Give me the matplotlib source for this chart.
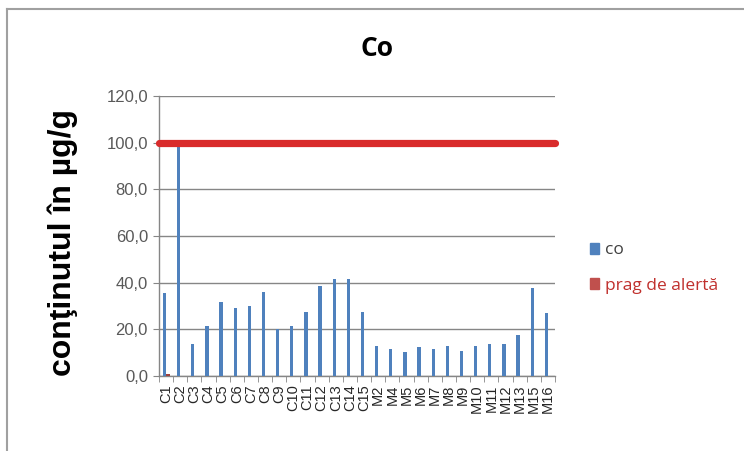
import numpy as np
import matplotlib.pyplot as plt
from matplotlib.patches import Patch
from matplotlib.lines import Line2D

# date
categorii = ['C1', 'C2', 'C3', 'C4', 'C5', 'C6', 'C7', 'C8', 'C9', 'C10',
             'C11', 'C12', 'C13', 'C14', 'C15', 'M2', 'M4', 'M5', 'M6', 'M7',
             'M8', 'M9', 'M10', 'M11', 'M12', 'M13', 'M15', 'M16']
co = [35.4, 98.6, 13.6, 21.6, 31.6, 29.0, 30.1, 36.1, 20.0, 21.6,
      27.6, 38.7, 41.6, 41.6, 27.6, 12.9, 11.6, 10.1, 12.3, 11.6,
      12.9, 10.9, 12.9, 13.6, 13.6, 17.6, 37.6, 26.9]
prag_bare = [0.7]          # mica bara rosie de la C1
prag_alerta = 100.0
yticks = [0, 20, 40, 60, 80, 100, 120]

albastru = '#4F81BD'
rosu = '#D92B2B'
gri = '#868686'

W, H = 744, 451
fig = plt.figure(figsize=(W / 100, H / 100), dpi=100)
ax = fig.add_axes([159 / W, 1 - 376 / H, 396 / W, 280 / H])

x = np.arange(len(categorii))
ax.bar(x - 0.11, co, width=0.24, color=albastru, zorder=3)
ax.bar(x[:len(prag_bare)] + 0.13, prag_bare, width=0.24, color='#A0413C', zorder=3)

# linia pragului de alerta
ax.plot([x[0] - 0.5, x[-1] + 0.5], [prag_alerta, prag_alerta], color=rosu,
        lw=5.2, solid_capstyle='round', zorder=4, clip_on=False)

ax.set_xlim(-0.5, len(categorii) - 0.5)
ax.set_ylim(0, 120)
ax.set_yticks(yticks)
ax.set_yticklabels([('%.1f' % v).replace('.', ',') for v in yticks],
                   fontsize=12, color='#595959', family='Liberation Sans')
ax.yaxis.grid(True, color=gri, lw=1, zorder=0)
ax.set_axisbelow(True)

ax.set_xticks(x)
ax.set_xticklabels(categorii, rotation=90, fontsize=10.5, family='Liberation Sans',
                   color='#262626')
ax.set_xticks(np.arange(-0.5, len(categorii), 1), minor=True)
ax.tick_params(axis='x', which='major', length=0, pad=6)
ax.tick_params(axis='x', which='minor', length=4, color=gri, direction='out')
ax.tick_params(axis='y', length=4, color=gri, pad=4)

for s in ['top', 'right']:
    ax.spines[s].set_visible(False)
for s in ['left', 'bottom']:
    ax.spines[s].set_color(gri)
    ax.spines[s].set_linewidth(1)

fig.text(63 / W, 1 - 243 / H, 'conţinutul în µg/g', rotation=90, ha='center',
         va='center', fontsize=23, fontweight='bold', family='Liberation Sans')
fig.text(377 / W, 1 - 48 / H, 'Co', ha='center', va='center', fontsize=19,
         fontweight='bold', family='Open Sans')

handles = [Patch(color=albastru), Patch(color='#C0504D')]
leg = fig.legend(handles, ['co', 'prag de alertă'], loc='center left',
                 bbox_to_anchor=(574 / W, 1 - 268 / H), frameon=False,
                 handlelength=0.55, handleheight=0.55, handletextpad=0.35,
                 labelspacing=1.1, prop={'family': 'Open Sans', 'size': 12.5})
leg.get_texts()[0].set_color('#404040')
leg.get_texts()[1].set_color('#C0302D')

# chenarul graficului
fig.add_artist(Line2D([7 / W, 1], [1 - 9 / H, 1 - 9 / H], color='#A0A0A0', lw=1.5))
fig.add_artist(Line2D([7 / W, 7 / W], [0, 1 - 9 / H], color='#A0A0A0', lw=1.5))

fig.savefig('out.png', dpi=100, facecolor='white')
